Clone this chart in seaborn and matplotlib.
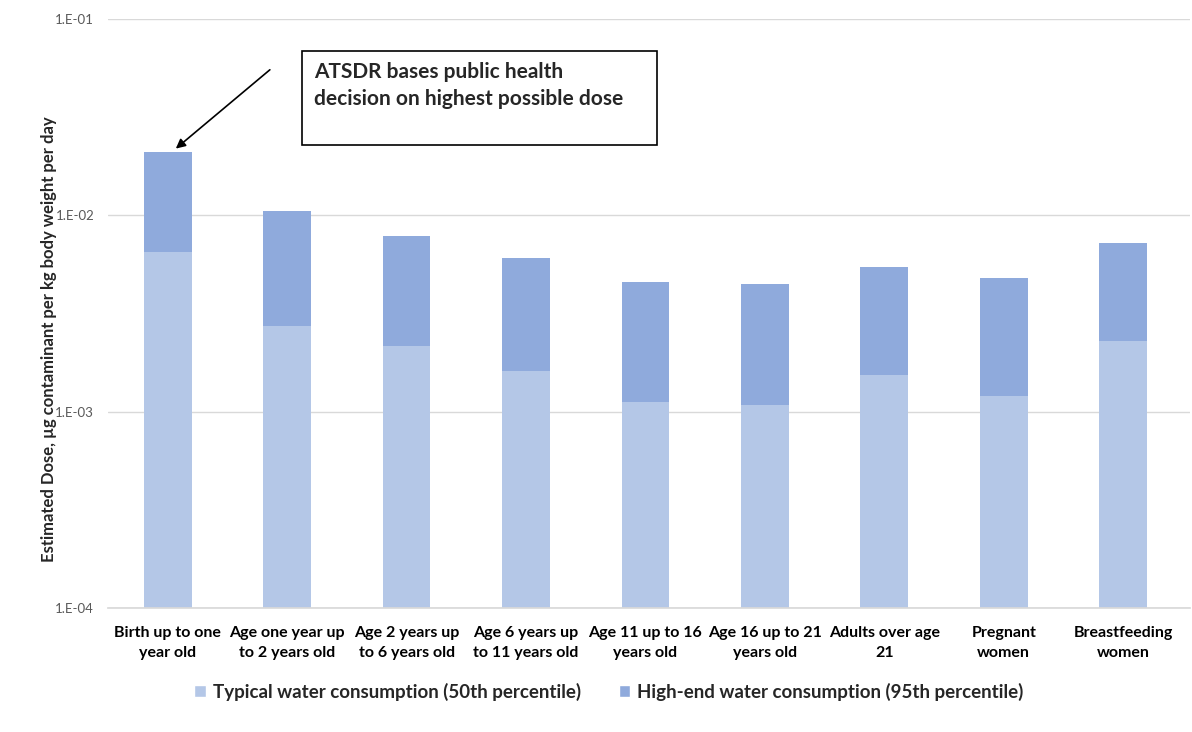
import matplotlib
matplotlib.use("Agg")
import matplotlib.pyplot as plt
import matplotlib.ticker as mticker
from matplotlib.patches import Rectangle, Patch
import seaborn as sns
import pandas as pd

categories = ["Birth up to one\nyear old", "Age one year up\nto 2 years old", "Age 2 years up\nto 6 years old",
              "Age 6 years up\nto 11 years old", "Age 11 up to 16\nyears old", "Age 16 up to 21\nyears old",
              "Adults over age\n21", "Pregnant\nwomen", "Breastfeeding\nwomen"]
typical = [0.0065, 0.00273, 0.00216, 0.00161, 0.00112, 0.00108, 0.00154, 0.0012, 0.00229]
high_end = [0.0210, 0.0105, 0.00785, 0.00606, 0.00457, 0.00447, 0.00545, 0.0048, 0.00723]
series_names = ["Typical water consumption (50th percentile)", "High-end water consumption (95th percentile)"]
y_ticks = [1e-4, 1e-3, 1e-2, 1e-1]
y_ticklabels = ["1.E-04", "1.E-03", "1.E-02", "1.E-01"]

c_typ = "#B4C7E7"
c_high = "#8FAADC"

sns.set_theme(style="white")
plt.rcParams['font.family'] = ['Lato', 'DejaVu Sans']

df = pd.DataFrame({"cat": categories, "typical": typical, "high": high_end})

L, R, T, B = 108, 1190, 19, 608
fig = plt.figure(figsize=(11.92, 7.32), dpi=100)
ax = fig.add_axes([L/1192, 1-B/732, (R-L)/1192, (B-T)/732])

sns.barplot(data=df, x="cat", y="high", color=c_high, width=0.4, ax=ax, saturation=1, linewidth=0)
sns.barplot(data=df, x="cat", y="typical", color=c_typ, width=0.4, ax=ax, saturation=1, linewidth=0)
ax.set_yscale("log")
ax.set_ylim(1e-4, 1e-1)
ax.set_xlim(-0.5, 8.56)
ax.set_yticks(y_ticks)
ax.set_yticklabels(y_ticklabels, color="#595959", fontsize=9.5)
ax.yaxis.set_minor_locator(mticker.NullLocator())
ax.grid(axis="y", color="#D9D9D9", linewidth=1)
ax.set_axisbelow(True)
for s in ["top", "right", "left"]:
    ax.spines[s].set_visible(False)
ax.spines["bottom"].set_color("#D9D9D9")
ax.tick_params(axis="y", length=0, pad=10)
ax.tick_params(axis="x", length=0, pad=13)
ax.set_xticks(range(len(categories)))
ax.set_xticklabels(categories, fontsize=11.5, fontweight="bold", color="#000000", linespacing=1.5)
ax.set_xlabel("")
ax.set_ylabel("Estimated Dose, µg contaminant per kg body weight per day", fontsize=12, fontweight="bold")
ax.yaxis.set_label_coords((57 - L) / (R - L), (B - 339) / (B - T))

# annotation box
fig.patches.append(Rectangle((302/1192, 1-145/732), (657-302)/1192, (145-51)/732,
                             transform=fig.transFigure, fill=False, edgecolor="black", linewidth=1.2))
fig.text(314/1192, 1-62/732, "ATSDR bases public health\ndecision on highest possible dose",
         fontsize=15, fontweight="bold", va="top", ha="left", linespacing=1.44)
ax.annotate("", xy=(0.05, high_end[0] * 1.02), xytext=(272/1192, 1-68/732), textcoords="figure fraction",
            arrowprops=dict(arrowstyle="-|>", color="black", lw=1.2, mutation_scale=14))

handles = [Patch(facecolor=c_typ, label=series_names[0]), Patch(facecolor=c_high, label=series_names[1])]
fig.legend(handles=handles, loc="center", bbox_to_anchor=(609/1192, 1-692/732), ncol=2, frameon=False,
           prop={"size": 13.5, "weight": "bold"}, handlelength=0.6, handleheight=0.6, columnspacing=2.0, handletextpad=0.4)

fig.savefig("out.png", dpi=100)
